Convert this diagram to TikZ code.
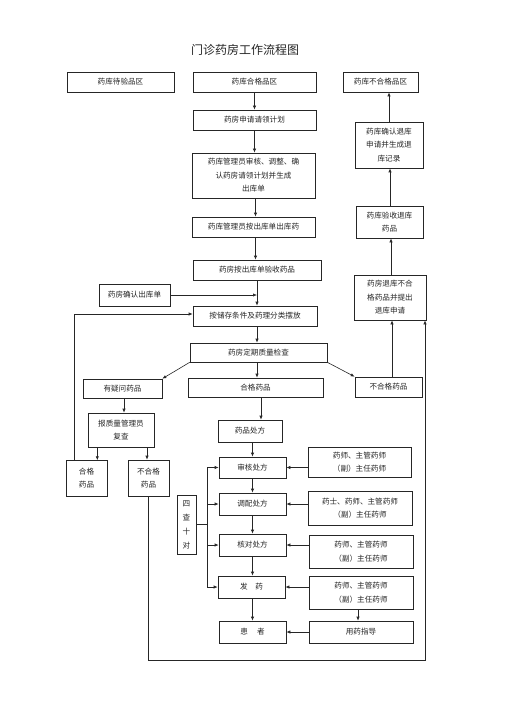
\documentclass[tikz,border=0pt]{standalone}
\usepackage{fontspec}
\newfontfamily\cjk{Noto Sans CJK SC}
\usetikzlibrary{arrows.meta,calc}
\begin{document}
\begin{tikzpicture}[x=1pt,y=-1pt,
  box/.style={draw=black!85, line width=0.6pt, inner sep=1pt, align=center,
    font=\cjk\fontsize{7.6}{13.5}\selectfont, text=black!85},
  arr/.style={draw=black!85, line width=0.6pt, -{Latex[length=4pt,width=3.2pt]}},
  ln/.style={draw=black!85, line width=0.6pt}]
\useasboundingbox[fill=white] (0,0) rectangle (505,714);
\node[font=\cjk\fontsize{12}{14}\selectfont, text=black!85] (title) at (245,50) {门诊药房工作流程图};
% top row
\node[box, minimum width=107pt, minimum height=20pt] (A) at (120.5,82) {药库待验品区};
\node[box, minimum width=123pt, minimum height=20pt] (B) at (254.5,82) {药库合格品区};
\node[box, minimum width=75pt, minimum height=20pt] (C) at (380.5,82) {药库不合格品区};
% main column
\node[box, minimum width=123pt, minimum height=20pt] (D) at (254.5,120) {药房申请请领计划};
\node[box, minimum width=123pt, minimum height=45pt] (E) at (253.5,175.5) {药库管理员审核、调整、确\\认药房请领计划并生成\\出库单};
\node[box, minimum width=123pt, minimum height=20pt] (F) at (253.5,227) {药库管理员按出库单出库药};
\node[box, minimum width=128pt, minimum height=20pt] (G) at (257,270) {药房按出库单验收药品};
\node[box, minimum width=71pt, minimum height=22pt] (H) at (134.5,295) {药房确认出库单};
\node[box, minimum width=124pt, minimum height=20pt] (I) at (255,316) {按储存条件及药理分类摆放};
\node[box, minimum width=137pt, minimum height=19pt] (J) at (258.5,352.5) {药房定期质量检查};
\node[box, minimum width=79pt, minimum height=19pt] (K) at (122.5,388.5) {有疑问药品};
\node[box, minimum width=135pt, minimum height=19pt] (L) at (255.5,387.5) {合格药品};
\node[box, minimum width=67pt, minimum height=20pt] (M) at (388.5,387) {不合格药品};
% right column
\node[box, minimum width=72pt, minimum height=45pt] (N) at (390,297.5) {药房退库不合\\格药品并提出\\退库申请};
\node[box, minimum width=67pt, minimum height=32pt] (O) at (389.5,222) {药库验收退库\\药品};
\node[box, minimum width=68pt, minimum height=46pt] (P) at (389,145) {药库确认退库\\申请并生成退\\库记录};
% left lower
\node[box, minimum width=66pt, minimum height=34pt] (Q) at (121,430) {报质量管理员\\复查};
\node[box, minimum width=41pt, minimum height=36pt] (R) at (86.5,478) {合格\\药品};
\node[box, minimum width=41pt, minimum height=36pt] (S) at (148.5,478) {不合格\\药品};
% prescription column
\node[box, minimum width=64pt, minimum height=22pt] (T) at (250,431) {药品处方};
\node[box, minimum width=67pt, minimum height=21pt] (U) at (252.5,467.5) {审核处方};
\node[box, minimum width=67pt, minimum height=22pt] (V) at (252.5,504) {调配处方};
\node[box, minimum width=67pt, minimum height=22pt] (W) at (252.5,545) {核对处方};
\node[box, minimum width=67pt, minimum height=22pt] (X) at (251.5,587) {发\hspace{1em}药};
\node[box, minimum width=67pt, minimum height=22pt] (Y) at (252.5,632) {患\hspace{1.2em}者};
% staff column
\node[box, minimum width=103pt, minimum height=30pt] (Z1) at (359.5,462) {药师、主管药师\\（副）主任药师};
\node[box, minimum width=104pt, minimum height=34pt] (Z2) at (360,508) {药士、药师、主管药师\\（副）主任药师};
\node[box, minimum width=104pt, minimum height=33pt] (Z3) at (361,551.5) {药师、主管药师\\（副）主任药师};
\node[box, minimum width=104pt, minimum height=33pt] (Z4) at (361,592.5) {药师、主管药师\\（副）主任药师};
\node[box, minimum width=104pt, minimum height=22pt] (Z5) at (361,632) {用药指导};
\node[box, minimum width=19pt, minimum height=59pt, font=\cjk\fontsize{7.6}{14}\selectfont] (Q4) at (186.5,524.5) {四\\查\\十\\对};
% coordinates
\coordinate (fk) at (207,524.5);
\coordinate (br) at (425,660);
% main flow arrows
\draw[arr] (B.south) -- (B.south |- D.north);
\draw[arr] (D.south) -- (D.south |- E.north);
\draw[arr] ([xshift=2pt]E.south) -- ([xshift=2pt]E.south |- F.north);
\draw[arr] ([xshift=2pt]F.south) -- ([xshift=2pt]F.south |- G.north);
\draw[arr] (G.south) -- (G.south |- I.north);
\draw[arr] (H.east) -- (H.east -| G.south);
\draw[arr] ([xshift=2pt]I.south) -- ([xshift=2pt]I.south |- J.north);
\draw[arr] ([xshift=-1.5pt]J.south) -- ([xshift=-1.5pt]J.south |- L.north);
\draw[arr] (J.south west) -- (K.north east);
\draw[arr] (J.south east) -- (M.north west);
% right column
\draw[arr] ([xshift=3.5pt]M.north) -- ([xshift=3.5pt]M.north |- N.south);
\draw[arr] ([xshift=1pt]N.north) -- ([xshift=1pt]N.north |- O.south);
\draw[arr] ([xshift=0.5pt]O.north) -- ([xshift=0.5pt]O.north |- P.south);
\draw[arr] (P.north) -- (P.north |- C.south);
% left branch
\draw[arr] ([xshift=1.5pt]K.south) -- ([xshift=1.5pt]K.south |- Q.north);
\draw[arr] (R.east |- Q.south) ++(-10,0) -- ++(0,13);
\draw[arr] ([xshift=-1.5pt]S.north |- Q.south) -- ([xshift=-1.5pt]S.north);
\draw[arr] ([xshift=-12.5pt]R.north) |- ([yshift=2pt]I.west);
\draw[arr] (S.south) |- (br) -- (br |- N.south);
% prescription flow
\draw[arr] ([xshift=5.5pt]L.south) -- ([xshift=5.5pt]L.south |- T.north);
\draw[arr] (U.north |- T.south) -- (U.north);
\draw[arr] (U.south) -- (U.south |- V.north);
\draw[arr] (V.south) -- (V.south |- W.north);
\draw[arr] (W.south) -- (W.south |- X.north);
\draw[arr] ([xshift=1pt]X.south) -- ([xshift=1pt]X.south |- Y.north);
\draw[arr] (U.east -| Z1.west) -- (U.east);
\draw[arr] (V.east -| Z2.west) -- (V.east);
\draw[arr] (W.east -| Z3.west) -- (W.east);
\draw[arr] (X.east -| Z4.west) -- (X.east);
\draw[arr] (Y.east -| Z5.west) -- (Y.east);
\draw[arr] ([xshift=-3pt]Z4.south) -- ([xshift=-3pt]Z4.south |- Z5.north);
% four checks fork
\draw[ln] (Q4.east) -- (fk);
\draw[arr] (fk) |- (U.west);
\draw[arr] (fk) |- (V.west);
\draw[arr] (fk) |- (W.west);
\draw[arr] (fk) |- (X.west);
\end{tikzpicture}
\end{document}
